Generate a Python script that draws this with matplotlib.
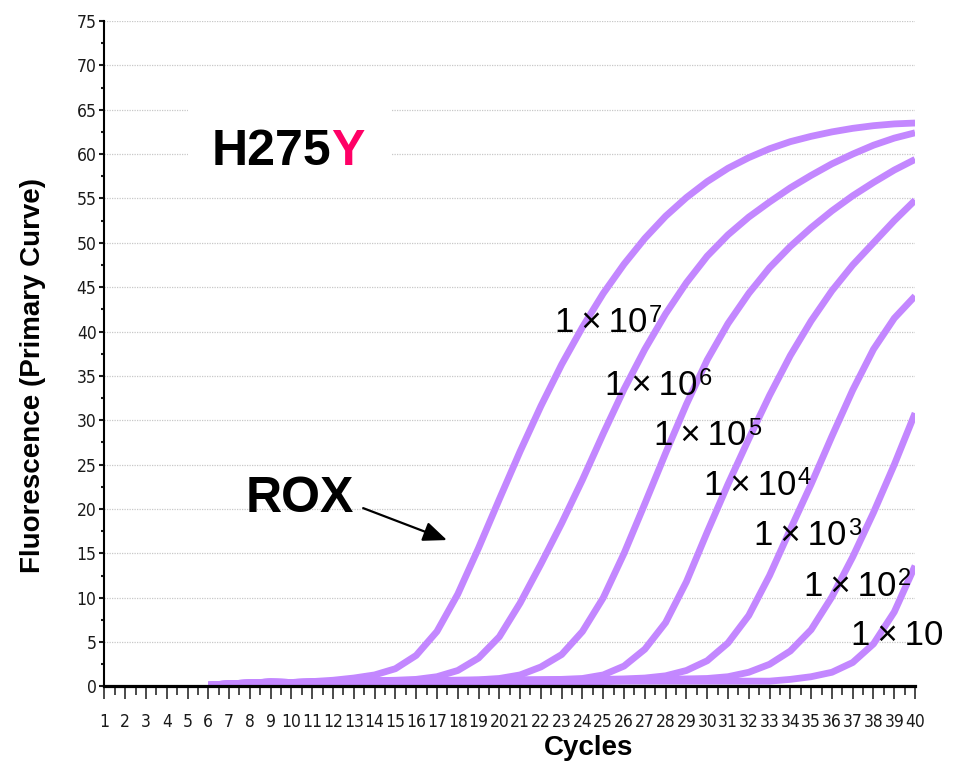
import matplotlib
matplotlib.use("Agg")
import matplotlib.pyplot as plt
from matplotlib import font_manager as fm
from matplotlib.font_manager import FontProperties
from matplotlib.patches import Rectangle
from matplotlib.ticker import MultipleLocator

# ---------------- data ----------------
cycles = list(range(6, 41))

rox_1e7 = [0.15, 0.3, 0.4, 0.5, 0.45, 0.55, 0.7, 0.95, 1.3, 2.0, 3.5, 6.2, 10.4, 15.6,
           21.1, 26.5, 31.6, 36.3, 40.5, 44.3, 47.6, 50.5, 53.0, 55.1, 56.9, 58.4,
           59.6, 60.6, 61.4, 62.0, 62.5, 62.9, 63.2, 63.4, 63.5]
rox_1e6 = [0.15, 0.3, 0.4, 0.5, 0.45, 0.5, 0.55, 0.6, 0.65, 0.7, 0.8, 1.1, 1.8, 3.2,
           5.6, 9.4, 13.8, 18.4, 23.3, 28.5, 33.5, 38.0, 42.0, 45.5, 48.5, 50.9,
           52.9, 54.6, 56.2, 57.6, 58.9, 60.0, 61.0, 61.8, 62.4]
rox_1e5 = [0.15, 0.3, 0.4, 0.5, 0.45, 0.5, 0.55, 0.6, 0.6, 0.65, 0.65, 0.7, 0.7, 0.75,
           0.9, 1.3, 2.2, 3.6, 6.2, 10.0, 15.0, 20.6, 26.3, 31.8, 36.8, 40.9,
           44.3, 47.2, 49.6, 51.7, 53.6, 55.3, 56.8, 58.2, 59.4]
rox_1e4 = [0.15, 0.3, 0.4, 0.5, 0.45, 0.5, 0.55, 0.55, 0.6, 0.6, 0.65, 0.65, 0.7, 0.7,
           0.7, 0.75, 0.75, 0.8, 0.9, 1.3, 2.3, 4.2, 7.2, 11.8, 17.4, 22.8,
           27.9, 32.8, 37.3, 41.2, 44.6, 47.5, 50.0, 52.5, 54.8]
rox_1e3 = [0.15, 0.3, 0.4, 0.5, 0.45, 0.5, 0.55, 0.55, 0.6, 0.6, 0.6, 0.65, 0.65, 0.7,
           0.7, 0.7, 0.75, 0.75, 0.8, 0.8, 0.85, 0.95, 1.2, 1.8, 2.9, 4.9,
           8.0, 12.5, 17.7, 22.8, 28.2, 33.4, 38.0, 41.5, 44.0]
rox_1e2 = [0.15, 0.3, 0.4, 0.5, 0.45, 0.5, 0.55, 0.55, 0.6, 0.6, 0.6, 0.65, 0.65, 0.65,
           0.7, 0.7, 0.7, 0.75, 0.75, 0.75, 0.8, 0.8, 0.8, 0.85, 0.9, 1.1,
           1.6, 2.5, 4.0, 6.4, 10.1, 14.6, 19.6, 25.0, 30.8]
rox_1e1 = [0.1, 0.2, 0.3, 0.35, 0.35, 0.4, 0.4, 0.45, 0.45, 0.45, 0.5, 0.5, 0.5, 0.5,
           0.5, 0.55, 0.55, 0.55, 0.55, 0.55, 0.6, 0.6, 0.6, 0.6, 0.6, 0.6,
           0.6, 0.6, 0.8, 1.1, 1.6, 2.7, 4.8, 8.4, 13.6]

series = [rox_1e7, rox_1e6, rox_1e5, rox_1e4, rox_1e3, rox_1e2, rox_1e1]
label_base = "1\u2009×\u200910"
label_exponents = ["7", "6", "5", "4", "3", "2", ""]

x_ticks = list(range(1, 41))
y_ticks = list(range(0, 80, 5))

# ---------------- layout / style ----------------
label_anchor = [(22.7, 39.9), (25.1, 32.8), (27.45, 27.2), (29.85, 21.6),
                (32.25, 15.9), (34.65, 10.25), (36.9, 4.7)]
curve_color = "#c387ff"
sans = ["Liberation Sans", "DejaVu Sans"]


def find_narrow():
    prefs = ["liberation sans narrow", "arial narrow", "dejavu sans condensed",
             "dejavusanscondensed", "noto sans condensed", "notosans-condensed",
             "roboto condensed", "open sans condensed"]
    cands = []
    for f in fm.fontManager.ttflist:
        n = f.name.lower()
        p = f.fname.lower()
        cond = ("narrow" in n or "condensed" in n or "narrow" in p or "condensed" in p
                or f.stretch in ("condensed", "semi-condensed", "extra-condensed",
                                 "ultra-condensed"))
        if not cond or "mono" in n or "serif" in n or f.style != "normal":
            continue
        if f.weight not in (400, "normal", "regular", "book"):
            continue
        if any(k in p for k in ("bold", "light", "italic", "medium", "thin", "black")):
            continue
        rank = len(prefs)
        for i, k in enumerate(prefs):
            if k in n or k in p.replace(" ", ""):
                rank = i
                break
        cands.append((rank, f.fname))
    if cands:
        cands.sort()
        return cands[0][1]
    return None


narrow = find_narrow()
if narrow:
    tick_fp = FontProperties(fname=narrow, size=12.5)
else:
    tick_fp = FontProperties(family="DejaVu Sans", size=9)

fig = plt.figure(figsize=(9.6, 7.63), dpi=100)
ax = fig.add_axes([0.1087, 0.1003, 0.8445, 0.8722])

ax.set_xlim(1, 40)
ax.set_ylim(0, 75)
ax.set_axisbelow(True)

for vals in series:
    ax.plot(cycles, vals, color=curve_color, lw=4.9, solid_capstyle="butt",
            solid_joinstyle="round", zorder=2)

# grid
ax.yaxis.grid(True, which="major", color="#c8c8c8", linestyle=(0, (1, 1)), linewidth=0.9)
ax.xaxis.grid(False)

# ticks
ax.set_xticks(x_ticks)
ax.set_yticks(y_ticks)
ax.xaxis.set_minor_locator(MultipleLocator(0.5))
ax.yaxis.set_minor_locator(MultipleLocator(2.5))
ax.set_xticklabels([str(v) for v in x_ticks])
ax.set_yticklabels([str(v) for v in y_ticks])
ax.tick_params(axis="x", which="major", length=9.4, width=1.1, direction="out",
               pad=9.5, colors="#1a1a1a")
ax.tick_params(axis="x", which="minor", length=6.5, width=1.1, direction="out",
               colors="#1a1a1a")
ax.tick_params(axis="y", which="major", length=3.6, width=1.5, direction="out",
               pad=2, colors="#1a1a1a")
ax.tick_params(axis="y", which="minor", length=2.4, width=1.5, direction="out",
               colors="#1a1a1a")
for lbl in ax.get_xticklabels() + ax.get_yticklabels():
    lbl.set_fontproperties(tick_fp)

for s in ("top", "right"):
    ax.spines[s].set_visible(False)
ax.spines["left"].set_linewidth(1.5)
ax.spines["bottom"].set_linewidth(2.3)
ax.spines["left"].set_color("black")
ax.spines["bottom"].set_color("black")

# axis labels
ax.set_ylabel("Fluorescence (Primary Curve)", family=sans, fontsize=20,
              fontweight="bold", rotation=90, ha="center", va="center")
ax.yaxis.set_label_coords(-0.088, 0.4666)
ax.set_xlabel("Cycles", family=sans, fontsize=20, fontweight="bold",
              ha="center", va="center")
ax.xaxis.set_label_coords(0.5967, -0.0924)

# white box behind the title (interrupts the grid lines)
ax.add_patch(Rectangle((5.0, 56.8), 9.85, 10.2, facecolor="white",
                       edgecolor="none", zorder=1))
t1 = ax.text(6.16, 58.8, "H275", family=sans, fontsize=36, fontweight="bold",
             color="black", ha="left", va="baseline", zorder=3)
ax.annotate("Y", xy=(1, 0), xycoords=t1, family=sans, fontsize=36,
            fontweight="bold", color="#ff0066", ha="left", va="bottom", zorder=3)

# ROX label and arrow
ax.text(10.41, 21.1, "ROX", family=sans, fontsize=36, fontweight="bold",
        color="black", ha="center", va="center", zorder=3)
ax.annotate("", xy=(17.48, 16.5), xytext=(13.45, 20.1),
            arrowprops=dict(arrowstyle="-|>,head_length=0.6,head_width=0.25",
                            color="black", lw=1.6, mutation_scale=24,
                            shrinkA=0, shrinkB=0), zorder=3)

# concentration labels
for exp, (cx, cy) in zip(label_exponents, label_anchor):
    base = ax.text(cx, cy, label_base, family=sans, fontsize=25, color="black",
                   ha="left", va="baseline", zorder=3)
    if exp:
        ax.annotate(exp, xy=(1.0, 1.0), xycoords=base, xytext=(1, 1),
                    textcoords="offset points", family=sans, fontsize=17,
                    color="black", ha="left", va="top", zorder=3)

fig.savefig("out.png", dpi=100)
